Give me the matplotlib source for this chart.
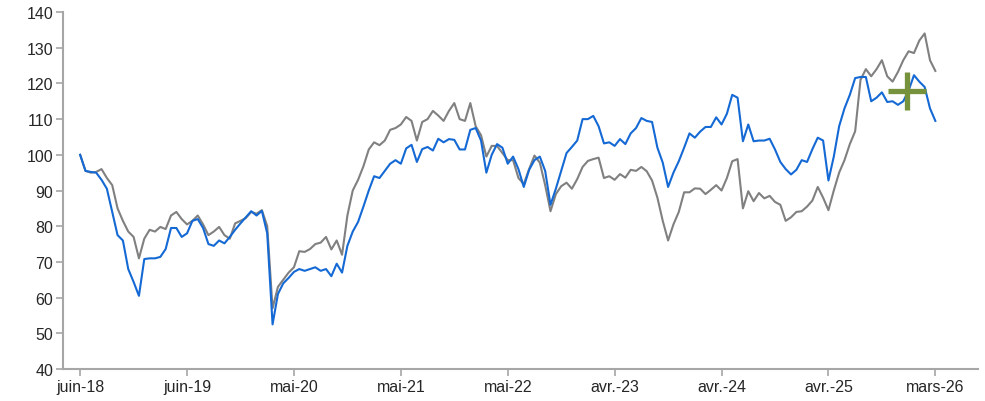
import numpy as np
import matplotlib.pyplot as plt

plt.rcParams['font.family'] = ['Liberation Sans', 'DejaVu Sans']

# tick labels, one every 20 points
labels = ['juin-18', 'juin-19', 'mai-20', 'mai-21', 'mai-22',
          'avr.-23', 'avr.-24', 'avr.-25', 'mars-26']

blue = [100, 95.5, 95.2, 95, 93, 90.5, 84, 77.5, 76, 68,
        64.4, 60.5, 70.8, 71, 71, 71.4, 73.6, 79.5, 79.5, 77,
        78, 81.5, 82, 79.5, 75, 74.5, 76, 75.2, 77, 79,
        80.8, 82.5, 84.2, 83, 84.3, 78, 52.5, 61, 64, 65.5,
        67.2, 68, 67.5, 68, 68.5, 67.5, 68, 66, 69.5, 67,
        74.5, 78.5, 81.2, 85.5, 90, 94, 93.5, 95.5, 97.5, 98.5,
        97.5, 101.8, 102.8, 98, 101.6, 102.2, 101.2, 104.5, 103.5, 104.4,
        104.2, 101.5, 101.5, 107, 107.5, 104, 95, 100, 103, 102,
        97.5, 99.5, 96, 91, 95.8, 98.5, 99.5, 95.5, 86, 90.5,
        95.5, 100.5, 102.2, 104, 110, 110, 110.9, 108, 103.2, 103.5,
        102.5, 104.4, 103, 106, 107.5, 110.3, 109.5, 109.2, 102, 97.8,
        91, 95, 98.2, 102, 106, 104.8, 106.5, 107.8, 107.8, 110.5,
        108.5, 111.5, 116.8, 116, 103.8, 108.5, 103.8, 104, 104, 104.5,
        101.5, 98, 96, 94.5, 95.8, 98.5, 98, 101.6, 104.8, 104,
        92.8, 99.5, 108, 113, 116.8, 121.5, 121.8, 121.8, 115, 116,
        117.5, 114.8, 115, 114, 115, 118, 122.3, 120.5, 119, 113,
        109.5]

gray = [100, 95.5, 95, 95.2, 96, 93.5, 91.5, 85, 81.5, 78.5,
        77, 71, 76.5, 79, 78.5, 79.8, 79.2, 83, 84, 82,
        80.5, 81.5, 83, 80.5, 77.5, 78.5, 79.8, 77.5, 76.5, 80.8,
        81.5, 82.3, 84, 83.5, 84.5, 80, 57, 63, 65, 67,
        68.5, 73, 72.8, 73.6, 75, 75.4, 77, 73.5, 76, 72,
        83, 90, 93, 96.8, 101.5, 103.5, 102.7, 104, 107, 107.5,
        108.5, 110.6, 109.5, 104, 109.2, 110, 112.3, 111, 109.5, 112.3,
        114.5, 110, 109.5, 114.5, 108, 105.5, 99.5, 102.5, 102.5, 100.5,
        98.5, 98.5, 93.5, 91.8, 96, 99.8, 97.8, 91.5, 84.2, 89,
        91.2, 92.2, 90.5, 93.2, 96.6, 98.3, 98.8, 99.2, 93.5, 94,
        93, 94.6, 93.6, 95.8, 95.5, 96.6, 95.4, 92.8, 88, 81.5,
        76, 80.5, 84, 89.5, 89.5, 90.6, 90.5, 89, 90.2, 91.5,
        90, 93.5, 98.2, 98.8, 85, 89.8, 87, 89.3, 87.8, 88.5,
        86.8, 86, 81.5, 82.5, 84, 84.2, 85.5, 87.2, 91, 88,
        84.5, 90, 95, 98.5, 103, 106.6, 121, 124, 122, 124,
        126.5, 122, 120.5, 123.2, 126.5, 129, 128.5, 132, 134, 126.5,
        123.5]

# green cross marker
marker_x = 154.7
marker_y = 118

fig = plt.figure(figsize=(9.85, 4.02), dpi=100)
ax = fig.add_axes([0.064, 0.0796, 0.929, 0.888])

x = np.arange(len(blue))
ax.plot(x, gray, color='#808080', lw=1.5)
ax.plot(x, blue, color='#1469d4', lw=1.5)
ax.plot([marker_x], [marker_y], marker='+', ms=28, mew=3.8, color='#76923c', ls='none')

ax.set_ylim(40, 140)
ax.set_yticks(range(40, 141, 10))
ax.set_xlim(-3.2, 168)
ax.set_xticks(range(0, 161, 20))
ax.set_xticklabels(labels)

for s in ['top', 'right']:
    ax.spines[s].set_visible(False)
for s in ['left', 'bottom']:
    ax.spines[s].set_color('#a6a6a6')
    ax.spines[s].set_linewidth(1.5)
ax.tick_params(axis='both', colors='#a6a6a6', length=5, width=1.2, labelsize=11.5, labelcolor='#262626', pad=2)

fig.savefig('out.png', dpi=100)
